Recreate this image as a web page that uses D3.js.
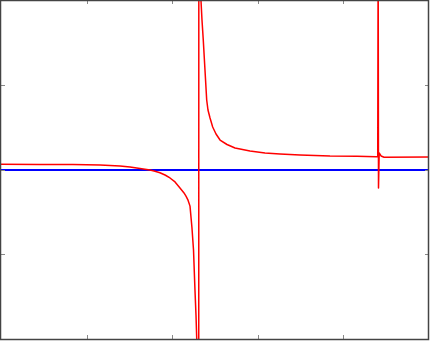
<!DOCTYPE html>
<html>
<head>
<meta charset="utf-8">
<script src="https://cdn.jsdelivr.net/npm/d3@7"></script>
<style>
	html, body { margin: 0; padding: 0; background: #fff; }
	svg { display: block; }
</style>
</head>
<body>
<svg></svg>
<script>
// values (x in [0,5], y in [-2,2])
var leftX = [0, 0.456, 0.841, 1.157, 1.390, 1.507, 1.624, 1.741, 1.799, 1.857, 1.916, 1.974, 2.033, 2.091,
	2.138, 2.161, 2.185, 2.208, 2.231, 2.249, 2.266, 2.278, 2.287, 2.305];
var leftY = [0.061, 0.060, 0.059, 0.053, 0.041, 0.029, 0.012, -0.006, -0.020, -0.038, -0.065, -0.100, -0.147, -0.218,
	-0.277, -0.315, -0.362, -0.432, -0.690, -0.950, -1.422, -1.717, -2.012, -30];

var rightX = [2.316, 2.336, 2.348, 2.363, 2.383, 2.403, 2.418, 2.442, 2.473, 2.512, 2.559, 2.640, 2.734, 2.909,
	3.084, 3.259, 3.493, 3.843, 4.159, 4.381, 4.401, 4.406, 4.410, 4.418, 4.44, 4.475, 5.0];
var rightY = [30, 2.0, 1.764, 1.528, 1.174, 0.820, 0.702, 0.608, 0.501, 0.419, 0.348, 0.295, 0.254, 0.218,
	0.195, 0.183, 0.171, 0.159, 0.156, 0.151, 0.150, 2.6, -0.218, 0.195, 0.160, 0.145, 0.148];

var zeroX = [0, 5];
var zeroY = [0, 0];

var xTicks = [1, 2, 3, 4];
var yTicks = [-1, 0, 1];

var width = 430;
var height = 341;

var x = d3.scaleLinear().domain([0, 5]).range([1, 429]);
var y = d3.scaleLinear().domain([-2, 2]).range([339, 0]);

var svg = d3.select('svg')
	.attr('width', width)
	.attr('height', height);

svg.append('defs').append('clipPath')
	.attr('id', 'plot')
	.append('rect')
	.attr('x', 1)
	.attr('y', 0)
	.attr('width', 428)
	.attr('height', 339);

var toPoints = function (xs, ys) {
	return xs.map(function (v, i) { return [v, ys[i]]; });
};

var line = d3.line()
	.x(function (d) { return x(d[0]); })
	.y(function (d) { return y(d[1]); });

var plot = svg.append('g').attr('clip-path', 'url(#plot)');

plot.append('path')
	.attr('d', line(toPoints(zeroX, zeroY)))
	.attr('fill', 'none')
	.attr('stroke', '#0000ff')
	.attr('stroke-width', 2)
	.attr('shape-rendering', 'crispEdges');

// both branches drawn as one polyline, so the jump makes the vertical line
plot.append('path')
	.attr('d', line(toPoints(leftX.concat(rightX), leftY.concat(rightY))))
	.attr('fill', 'none')
	.attr('stroke', '#ff0000')
	.attr('stroke-width', 1.5)
	.attr('stroke-linejoin', 'round');

// ticks on all four sides, pointing inward
var tickLen = 4;
var ticks = svg.append('g')
	.attr('stroke', '#888')
	.attr('stroke-width', 1);

xTicks.forEach(function (t) {
	var px = Math.round(x(t)) + 0.5;
	ticks.append('line').attr('x1', px).attr('x2', px).attr('y1', 0).attr('y2', tickLen);
	ticks.append('line').attr('x1', px).attr('x2', px).attr('y1', 339).attr('y2', 339 - tickLen);
});

yTicks.forEach(function (t) {
	var py = Math.round(y(t)) + 0.5;
	ticks.append('line').attr('x1', 1).attr('x2', 1 + tickLen).attr('y1', py).attr('y2', py);
	ticks.append('line').attr('x1', 429).attr('x2', 429 - tickLen).attr('y1', py).attr('y2', py);
});

svg.append('rect')
	.attr('x', 0.5)
	.attr('y', 0.5)
	.attr('width', 428)
	.attr('height', 339)
	.attr('fill', 'none')
	.attr('stroke', '#444')
	.attr('stroke-width', 1.5);
</script>
</body>
</html>
